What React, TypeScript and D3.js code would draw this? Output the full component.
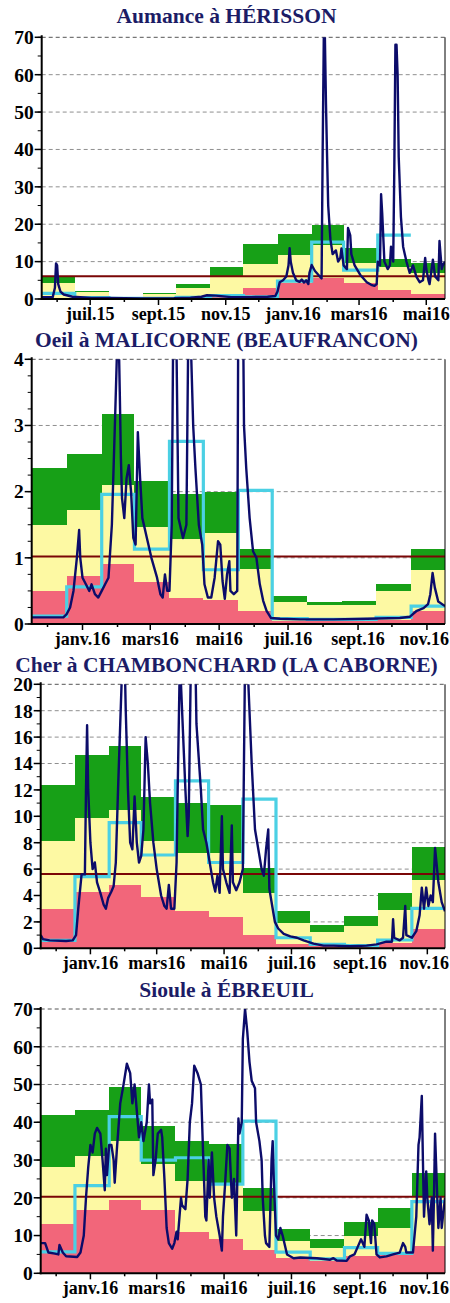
import React from 'react';
import * as d3 from 'd3';

// Débits journaliers (m3/s) et statistiques mensuelles.
// flow: [jour depuis le début de la période, débit]

// ---- Aumance à HÉRISSON : juin 2015 -> mai 2016 ----
const aumanceTitle = 'Aumance à HÉRISSON';
const aumanceStart = '2015-06-01';
const aumanceMonths = ['', 'juil.15', '', 'sept.15', '', 'nov.15', '', 'janv.16', '', 'mars16', '', 'mai16'];
const aumancePink = [0.4, 0.2, 0.1, 0.1, 0.4, 0.8, 2.85, 4.2, 5.7, 4.2, 2.3, 1.4];
const aumanceYellow = [4.2, 1.8, 0.3, 1.3, 2.85, 6.15, 9.3, 11.8, 14.4, 9.6, 8.65, 6.95];
const aumanceGreen = [6.1, 2.1, 0.5, 1.7, 4.0, 8.6, 14.6, 17.3, 19.8, 13.6, 10.6, 9.5];
const aumanceMean = [1.5, 0.35, 0.2, 0.2, 0.45, 0.9, 0.6, 4.8, 15.2, 7.7, 17.1, null];
const aumanceModule = 6.1;
const aumanceFlow: [number, number][] = [
  [0, 0.5], [10, 0.5], [12, 3], [13, 9.5], [14, 9], [15, 4], [17, 2], [20, 1.2], [28, 0.6], [45, 0.3],
  [60, 0.25], [90, 0.15], [120, 0.2], [135, 0.35], [145, 0.6], [150, 1.0], [158, 0.9], [165, 0.7], [172, 0.5],
  [190, 0.5], [205, 0.6], [212, 0.8], [214, 2], [216, 4.5], [219, 5], [222, 6], [224, 9], [225, 13.6], [226, 10],
  [228, 7], [231, 5], [234, 4.6], [236, 5.2], [238, 4.4], [240, 5], [242, 4], [243, 7], [245, 9.1], [248, 7.5],
  [251, 6.5], [254, 5.5], [255, 40], [256, 70], [257, 70], [258, 52], [259, 38], [260, 25], [262, 16], [264, 12],
  [267, 13], [269, 10], [271, 11], [272, 13.5], [274, 9], [277, 8], [278, 19], [280, 17], [281, 12], [284, 9],
  [289, 6.5], [295, 4.5], [299, 3.8], [302, 3.5], [304, 4], [305, 10], [307, 9], [308, 28], [309, 23], [311, 10],
  [314, 8], [316, 9], [317, 14], [319, 10], [320, 35], [321, 68], [322, 68], [323, 60], [324, 38], [326, 22],
  [328, 14], [331, 10], [334, 7], [337, 9], [340, 6], [343, 4.5], [346, 5], [348, 11], [349, 8], [351, 5],
  [352, 4], [355, 10.5], [357, 6], [360, 5], [361, 15.5], [363, 8], [364, 9], [366, 10],
];

// ---- Oeil à MALICORNE : déc. 2015 -> nov. 2016 ----
const oeilTitle = 'Oeil à MALICORNE (BEAUFRANCON)';
const oeilStart = '2015-12-01';
const oeilMonths = ['', 'janv.16', '', 'mars16', '', 'mai16', '', 'juil.16', '', 'sept.16', '', 'nov.16'];
const oeilPink = [0.5, 0.72, 0.9, 0.63, 0.4, 0.37, 0.2, 0.05, 0.04, 0.04, 0.06, 0.2];
const oeilYellow = [1.5, 1.72, 2.1, 1.47, 1.28, 1.37, 0.83, 0.33, 0.28, 0.28, 0.5, 0.82];
const oeilGreen = [2.35, 2.57, 3.18, 2.16, 1.97, 2.0, 1.13, 0.43, 0.33, 0.35, 0.6, 1.13];
const oeilMean = [0.12, 0.56, 1.96, 1.13, 2.76, 0.82, 2.02, 0.08, 0.07, 0.07, 0.1, 0.27];
const oeilModule = 1.02;
const oeilFlow: [number, number][] = [
  [0, 0.1], [28, 0.1], [31, 0.15], [34, 0.25], [37, 0.5], [40, 1.0], [42, 1.42], [43, 1.0], [45, 0.7], [48, 0.6],
  [51, 0.5], [53, 0.6], [56, 0.45], [59, 0.4], [62, 0.5], [65, 0.6], [68, 0.7], [71, 1.5], [74, 3.2], [76, 4.4],
  [77, 4.4], [78, 3.5], [79, 2.5], [80, 1.9], [82, 1.6], [84, 2.2], [86, 2.4], [88, 2.0], [90, 1.3], [92, 1.2],
  [94, 2.9], [96, 2.2], [98, 1.6], [102, 1.3], [106, 1.0], [111, 0.7], [114, 0.45], [116, 0.4], [118, 0.75],
  [120, 0.5], [122, 0.5], [124, 1.5], [126, 6], [128, 4.5], [130, 1.6], [134, 1.3], [137, 1.5], [139, 5], [141, 4.2],
  [143, 3.0], [145, 2.35], [148, 1.5], [151, 1.2], [153, 0.6], [156, 0.4], [159, 0.4], [162, 0.7], [165, 1.25],
  [167, 1.2], [169, 0.65], [171, 0.38], [173, 0.75], [175, 0.95], [176, 0.5], [179, 0.45], [182, 0.5], [183, 5],
  [185, 8], [187, 5], [188, 3.0], [190, 2.35], [193, 1.6], [196, 1.1], [199, 1.0], [202, 0.6], [205, 0.35],
  [208, 0.2], [212, 0.09], [220, 0.08], [238, 0.07], [267, 0.07], [297, 0.08], [326, 0.09], [335, 0.11],
  [341, 0.2], [347, 0.24], [351, 0.3], [353, 0.45], [355, 0.77], [357, 0.55], [360, 0.34], [366, 0.27],
];

// ---- Cher à CHAMBONCHARD : déc. 2015 -> nov. 2016 ----
const cherTitle = 'Cher à CHAMBONCHARD (LA CABORNE)';
const cherStart = '2015-12-01';
const cherMonths = ['', 'janv.16', '', 'mars16', '', 'mai16', '', 'juil.16', '', 'sept.16', '', 'nov.16'];
const cherPink = [3.0, 4.3, 4.8, 3.9, 2.8, 2.4, 1.0, 0.3, 0.2, 0.3, 0.4, 1.45];
const cherYellow = [8.1, 9.9, 10.45, 8.1, 7.2, 7.2, 4.17, 1.94, 1.26, 1.7, 2.9, 5.15];
const cherGreen = [12.35, 14.65, 15.35, 11.45, 11.0, 10.85, 6.06, 2.85, 1.77, 2.45, 4.2, 7.7];
const cherMean = [0.6, 5.43, 9.52, 7.07, 12.68, 6.5, 11.3, 0.8, 0.3, 0.2, 0.63, 3.03];
const cherModule = 5.63;
const cherFlow: [number, number][] = [
  [0, 1.0], [2, 0.7], [8, 0.6], [23, 0.55], [29, 0.6], [32, 1.0], [34, 3.0], [37, 5.6], [40, 5.6], [41, 12],
  [42, 16.9], [43, 12], [45, 8], [47, 6.0], [49, 6.5], [51, 5.0], [54, 4.2], [57, 3.3], [59, 3.0], [61, 3.8],
  [64, 4.3], [66, 4.7], [68, 6.5], [70, 12], [72, 17], [74, 22], [76, 22], [77, 18], [79, 12], [81, 8], [83, 7.5],
  [85, 11.5], [87, 8], [89, 6.5], [91, 7], [93, 9], [95, 16], [97, 14], [99, 11], [102, 8], [105, 6], [109, 4],
  [112, 3.2], [114, 3.0], [116, 4.8], [118, 3.0], [121, 3.0], [123, 6.5], [124, 12], [126, 22], [128, 18],
  [131, 12], [133, 8.5], [134, 10], [136, 22], [140, 22], [141, 17], [143, 14.5], [145, 12], [147, 9], [150, 8],
  [152, 7], [154, 6], [156, 5], [158, 4.3], [160, 5.5], [162, 4.2], [164, 10], [165, 6], [168, 5], [171, 4.2],
  [173, 9.3], [174, 5], [177, 4.4], [180, 5], [183, 6], [185, 22], [188, 20], [191, 14], [194, 9], [197, 7.5],
  [200, 6], [202, 5.5], [204, 7.5], [206, 9], [207, 4.5], [210, 3], [212, 2], [215, 1.5], [220, 1.1], [226, 0.9],
  [232, 0.8], [238, 0.6], [247, 0.35], [256, 0.2], [265, 0.2], [280, 0.15], [295, 0.2], [304, 0.3], [313, 0.5],
  [318, 0.5], [319, 2.2], [320, 0.8], [325, 0.6], [328, 0.8], [330, 3.2], [331, 1.0], [336, 0.8], [340, 1.3],
  [343, 2.5], [345, 4.6], [347, 3.0], [349, 4.6], [351, 3.2], [353, 4.0], [355, 3.5], [357, 7.6], [360, 5],
  [363, 3.5], [366, 2.8],
];

// ---- Sioule à ÉBREUIL : déc. 2015 -> nov. 2016 ----
const siouleTitle = 'Sioule à ÉBREUIL';
const siouleStart = '2015-12-01';
const siouleMonths = ['', 'janv.16', '', 'mars16', '', 'mai16', '', 'juil.16', '', 'sept.16', '', 'nov.16'];
const sioulePink = [13.0, 16.8, 19.3, 16.8, 11.0, 9.1, 6.2, 4.0, 3.3, 4.5, 4.9, 7.1];
const siouleYellow = [28.1, 31.1, 35.0, 29.0, 24.5, 23.6, 16.5, 8.6, 6.8, 9.8, 12.1, 20.6];
const siouleGreen = [42.0, 43.2, 49.4, 39.1, 35.1, 34.2, 22.6, 11.7, 9.0, 13.6, 17.2, 26.6];
const siouleMean = [5.7, 23.2, 41.5, 30.0, 30.6, 23.6, 40.3, 5.6, 3.8, 6.8, 5.3, 19.0];
const siouleModule = 20.3;
const siouleFlow: [number, number][] = [
  [0, 8], [4, 8], [7, 5.5], [13, 5.2], [16, 5.0], [17, 7.5], [20, 5.5], [23, 4.5], [33, 4.3], [36, 5.5],
  [39, 10], [41, 20], [43, 28], [45, 34], [47, 32], [49, 37], [51, 38.5], [54, 37], [56, 30], [58, 22], [59, 33],
  [60, 26], [62, 34], [64, 34], [66, 30], [67, 24], [69, 33], [72, 45], [75, 50], [78, 55.5], [81, 53], [83, 45],
  [85, 50], [87, 43], [89, 36], [91, 40], [93, 35], [96, 40], [98, 50], [99, 45], [101, 46], [102, 26], [104, 30],
  [106, 37], [109, 38], [110, 36], [112, 25], [114, 12], [116, 8], [119, 6.5], [121, 8], [123, 11], [124, 9],
  [127, 20], [128, 18], [131, 17], [133, 25], [135, 40], [137, 45], [139, 55], [142, 53], [145, 50], [147, 32],
  [149, 15], [150, 14], [152, 30], [153, 20], [155, 32], [157, 20], [159, 15], [162, 10], [164, 6], [165, 15],
  [167, 24], [169, 34], [171, 33], [173, 20], [175, 25], [177, 10], [178, 25], [179, 41], [180, 37], [182, 40],
  [183, 62], [185, 70], [187, 64], [189, 56], [191, 51], [194, 49], [195, 40], [198, 35], [200, 30], [201, 20],
  [203, 10], [204, 8], [207, 7], [209, 30], [210, 35], [211, 25], [213, 10], [215, 9], [217, 12], [219, 10],
  [223, 5], [229, 4], [235, 4.2], [250, 4.0], [262, 3.6], [265, 4.0], [268, 3.4], [277, 3.3], [280, 4.5],
  [284, 5], [287, 7], [290, 9], [293, 7], [295, 15.5], [297, 14], [299, 8], [300, 14], [302, 13], [304, 5],
  [307, 4.2], [313, 4.5], [319, 5], [325, 5.5], [328, 8], [330, 7], [331, 5.5], [337, 5.5], [340, 15], [342, 34],
  [343, 36], [345, 47], [346, 30], [347, 15], [349, 27], [350, 20], [352, 13], [354, 20], [355, 6], [356, 20],
  [357, 37], [359, 20], [360, 12], [362, 20], [363, 12], [366, 20],
];

const COL = {
  pink: '#f2667a',
  yellow: '#fdf9a3',
  green: '#17a017',
  cyan: '#4bd0e4',
  flow: '#0c0c6a',
  module: '#7a0606',
  grid: '#8f8f8f',
  title: '#1c1c66',
};
const FONT = "'Liberation Serif', 'Times New Roman', serif";

type PanelProps = {
  id: string;
  title: string;
  start: string;
  months: string[];
  pink: number[];
  yellow: number[];
  green: number[];
  mean: (number | null)[];
  moduleValue: number;
  flow: [number, number][];
  yMax: number;
  yStep: number;
  yMinor: number;
  left: number;
  top: number;
  bottom: number;
  titleY: number;
};

const RIGHT = 445;
const EDGE = 449; // dernier pixel utilisable pour les étiquettes

function Panel(p: PanelProps) {
  const startDate = new Date(p.start + 'T00:00:00Z');
  const endDate = d3.utcMonth.offset(startDate, 12);
  const x = d3.scaleUtc().domain([startDate, endDate]).range([p.left, RIGHT]);
  const y = d3.scaleLinear().domain([0, p.yMax]).range([p.bottom, p.top]);
  const monthStarts = d3.utcMonth.range(startDate, endDate);

  const majors = d3.range(0, p.yMax + p.yStep / 2, p.yStep);
  const minors = d3.range(0, p.yMax + p.yMinor / 2, p.yMinor);

  const flowLine = d3.line<[number, number]>()
    .x(d => x(d3.utcDay.offset(startDate, d[0])))
    .y(d => y(d[1]));

  // moyenne mensuelle en escalier
  const meanPts: [Date, number][] = [];
  p.mean.forEach((v, i) => {
    if (v != null) meanPts.push([monthStarts[i], v]);
  });
  if (meanPts.length) {
    const last = meanPts[meanPts.length - 1];
    meanPts.push([d3.utcMonth.offset(last[0], 1), last[1]]);
  }
  const meanLine = d3.line<[Date, number]>()
    .x(d => x(d[0]))
    .y(d => y(d[1]))
    .curve(d3.curveStepAfter);

  const clipId = `clip-${p.id}`;
  const fmt = (v: number) => (p.yStep < 1 ? d3.format('.2~f')(v) : String(v));

  return (
    <g>
      <defs>
        <clipPath id={clipId}>
          <rect x={p.left} y={p.top} width={RIGHT - p.left} height={p.bottom - p.top} />
        </clipPath>
      </defs>
      <text x={226.5} y={p.titleY} textAnchor="middle" fontFamily={FONT} fontWeight="bold"
        fontSize={21.5} fill={COL.title}>{p.title}</text>

      {/* grille */}
      {majors.filter(v => v > 0).map(v => (
        <line key={'g' + v} x1={p.left} x2={RIGHT} y1={y(v)} y2={y(v)}
          stroke={v === p.yMax ? '#555' : COL.grid} strokeWidth={1} strokeDasharray="4,3" />
      ))}

      {/* statistiques mensuelles */}
      <g shapeRendering="crispEdges">
        {monthStarts.map((m, i) => {
          const x0 = x(m);
          const x1 = x(d3.utcMonth.offset(m, 1));
          return (
            <g key={'b' + i}>
              <rect x={x0} width={x1 - x0} y={y(p.green[i])} height={y(p.yellow[i]) - y(p.green[i])} fill={COL.green} />
              <rect x={x0} width={x1 - x0} y={y(p.yellow[i])} height={y(p.pink[i]) - y(p.yellow[i])} fill={COL.yellow} />
              <rect x={x0} width={x1 - x0} y={y(p.pink[i])} height={y(0) - y(p.pink[i])} fill={COL.pink} />
            </g>
          );
        })}
      </g>

      {/* module */}
      <line x1={p.left} x2={RIGHT} y1={y(p.moduleValue)} y2={y(p.moduleValue)} stroke={COL.module} strokeWidth={2} />

      <g clipPath={`url(#${clipId})`}>
        <path d={meanLine(meanPts) || ''} fill="none" stroke={COL.cyan} strokeWidth={3.2} />
        <path d={flowLine(p.flow) || ''} fill="none" stroke={COL.flow} strokeWidth={2.4} strokeLinejoin="round" />
      </g>

      {/* cadre et axes */}
      <line x1={RIGHT} x2={RIGHT} y1={p.top} y2={p.bottom} stroke="#000" strokeWidth={1} />
      <line x1={p.left} x2={p.left} y1={p.top - 2} y2={p.bottom + 1} stroke="#000" strokeWidth={2} />
      <line x1={p.left - 1} x2={RIGHT} y1={p.bottom} y2={p.bottom} stroke="#000" strokeWidth={2} />

      {minors.map(v => (
        <line key={'mt' + v} x1={p.left - 4} x2={p.left} y1={y(v)} y2={y(v)} stroke="#000" strokeWidth={1} />
      ))}
      {majors.map(v => (
        <g key={'yt' + v}>
          <line x1={p.left - 7} x2={p.left} y1={y(v)} y2={y(v)} stroke="#000" strokeWidth={1.5} />
          <text x={p.left - 8} y={y(v)} dy="0.35em" textAnchor="end" fontFamily={FONT} fontWeight="bold"
            fontSize={19.5} fill="#000">{fmt(v)}</text>
        </g>
      ))}

      {monthStarts.map((m, i) => {
        const xm = x(d3.utcDay.offset(m, 14));
        const lab = p.months[i];
        // étiquette rentrée dans la page si elle déborde à droite
        const half = lab.length * 3.7;
        const atEdge = xm + half > EDGE;
        return (
          <g key={'xt' + i}>
            <line x1={xm} x2={xm} y1={p.bottom} y2={p.bottom + (lab ? 6 : 3)} stroke="#000" strokeWidth={1.5} />
            {lab && (
              <text x={atEdge ? EDGE : xm} y={p.bottom + 21} textAnchor={atEdge ? 'end' : 'middle'}
                fontFamily={FONT} fontWeight="bold" fontSize={18} fill="#000">{lab}</text>
            )}
          </g>
        );
      })}
    </g>
  );
}

export default function App() {
  return (
    <svg width={450} height={1303} viewBox="0 0 450 1303"
      style={{ position: 'absolute', left: 0, top: 0, background: '#fff' }}>
      <rect width={450} height={1303} fill="#fff" />
      <Panel id="aumance" title={aumanceTitle} start={aumanceStart} months={aumanceMonths}
        pink={aumancePink} yellow={aumanceYellow} green={aumanceGreen} mean={aumanceMean}
        moduleValue={aumanceModule} flow={aumanceFlow}
        yMax={70} yStep={10} yMinor={5} left={41.7} top={37.3} bottom={299} titleY={22.7} />
      <Panel id="oeil" title={oeilTitle} start={oeilStart} months={oeilMonths}
        pink={oeilPink} yellow={oeilYellow} green={oeilGreen} mean={oeilMean}
        moduleValue={oeilModule} flow={oeilFlow}
        yMax={4} yStep={1} yMinor={0.25} left={31.7} top={359.3} bottom={624} titleY={346.7} />
      <Panel id="cher" title={cherTitle} start={cherStart} months={cherMonths}
        pink={cherPink} yellow={cherYellow} green={cherGreen} mean={cherMean}
        moduleValue={cherModule} flow={cherFlow}
        yMax={20} yStep={2} yMinor={1} left={40.7} top={684.3} bottom={948.3} titleY={671.7} />
      <Panel id="sioule" title={siouleTitle} start={siouleStart} months={siouleMonths}
        pink={sioulePink} yellow={siouleYellow} green={siouleGreen} mean={siouleMean}
        moduleValue={siouleModule} flow={siouleFlow}
        yMax={70} yStep={10} yMinor={5} left={40.7} top={1009} bottom={1273.3} titleY={996.7} />
    </svg>
  );
}
